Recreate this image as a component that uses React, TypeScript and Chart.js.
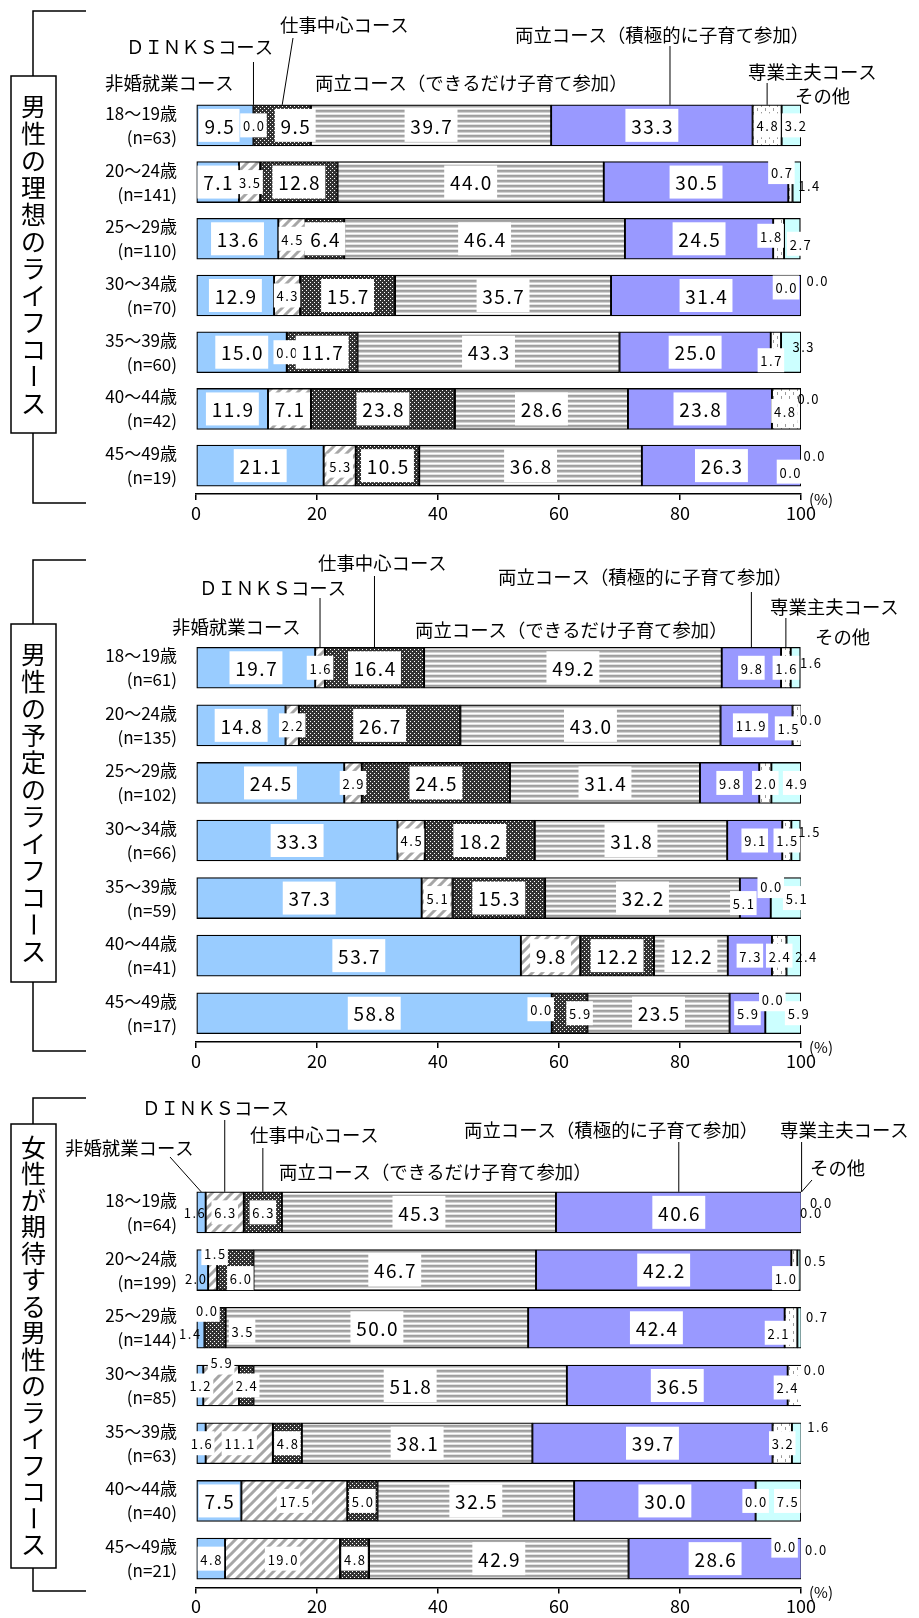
import React, { useEffect, useRef } from "react";
import { Chart, registerables } from "chart.js";

Chart.register(...registerables);

const FONT = "'Noto Sans CJK JP', 'Noto Sans', sans-serif";
Chart.defaults.font.family = FONT;
Chart.defaults.color = "#000";

// ---------------- data ----------------
const seriesNames = [
  "非婚就業コース",
  "ＤＩＮＫＳコース",
  "仕事中心コース",
  "両立コース（できるだけ子育て参加）",
  "両立コース（積極的に子育て参加）",
  "専業主夫コース",
  "その他",
];

const ageGroups = ["18～19歳", "20～24歳", "25～29歳", "30～34歳", "35～39歳", "40～44歳", "45～49歳"];
const xTicks = [0, 20, 40, 60, 80, 100];

// 男性の理想のライフコース
const idealN = [63, 141, 110, 70, 60, 42, 19];
const idealSingle = [9.5, 7.1, 13.6, 12.9, 15.0, 11.9, 21.1];
const idealDinks = [0.0, 3.5, 4.5, 4.3, 0.0, 7.1, 5.3];
const idealWork = [9.5, 12.8, 6.4, 15.7, 11.7, 23.8, 10.5];
const idealBalance = [39.7, 44.0, 46.4, 35.7, 43.3, 28.6, 36.8];
const idealActive = [33.3, 30.5, 24.5, 31.4, 25.0, 23.8, 26.3];
const idealHouse = [4.8, 0.7, 1.8, 0.0, 1.7, 4.8, 0.0];
const idealOther = [3.2, 1.4, 2.7, 0.0, 3.3, 0.0, 0.0];

// 男性の予定のライフコース
const planN = [61, 135, 102, 66, 59, 41, 17];
const planSingle = [19.7, 14.8, 24.5, 33.3, 37.3, 53.7, 58.8];
const planDinks = [1.6, 2.2, 2.9, 4.5, 5.1, 9.8, 0.0];
const planWork = [16.4, 26.7, 24.5, 18.2, 15.3, 12.2, 5.9];
const planBalance = [49.2, 43.0, 31.4, 31.8, 32.2, 12.2, 23.5];
const planActive = [9.8, 11.9, 9.8, 9.1, 5.1, 7.3, 5.9];
const planHouse = [1.6, 1.5, 2.0, 1.5, 0.0, 2.4, 0.0];
const planOther = [1.6, 0.0, 4.9, 1.5, 5.1, 2.4, 5.9];

// 女性が期待する男性のライフコース
const wishN = [64, 199, 144, 85, 63, 40, 21];
const wishSingle = [1.6, 2.0, 1.4, 1.2, 1.6, 7.5, 4.8];
const wishDinks = [6.3, 1.5, 0.0, 5.9, 11.1, 17.5, 19.0];
const wishWork = [6.3, 6.0, 3.5, 2.4, 4.8, 5.0, 4.8];
const wishBalance = [45.3, 46.7, 50.0, 51.8, 38.1, 32.5, 42.9];
const wishActive = [40.6, 42.2, 42.4, 36.5, 39.7, 30.0, 28.6];
const wishHouse = [0.0, 1.0, 2.1, 2.4, 3.2, 0.0, 0.0];
const wishOther = [0.0, 0.5, 0.7, 0.0, 1.6, 7.5, 0.0];

// ---------------- layout ----------------
type Ann = { text: string; x: number; y: number; series?: number; fromX?: number; fromY?: number; frac?: number };
type PanelCfg = {
  title: string;
  n: number[];
  data: number[][];
  top: number;
  height: number;
  chartTop: number;
  chartBottom: number;
  box: [number, number];
  bracket: [number, number];
  pitch: number;
  smallSeries: number[];
  anns: Ann[];
  nudges: Record<string, [number, number]>;
};

const panels: PanelCfg[] = [
  {
    title: "男性の理想のライフコース",
    n: idealN,
    data: [idealSingle, idealDinks, idealWork, idealBalance, idealActive, idealHouse, idealOther],
    top: 0,
    height: 535,
    chartTop: 97,
    chartBottom: 494,
    box: [76, 433],
    bracket: [11, 503],
    pitch: 27,
    smallSeries: [],
    anns: [
      { text: seriesNames[0], x: 105, y: 83 },
      { text: seriesNames[1], x: 126, y: 47, series: 1, fromY: 62 },
      { text: seriesNames[2], x: 280, y: 25, series: 2, fromX: 293, fromY: 38 },
      { text: seriesNames[3], x: 315, y: 83 },
      { text: seriesNames[4], x: 515, y: 35, series: 4, fromY: 46, frac: 0.59 },
      { text: seriesNames[5], x: 748, y: 72, series: 5, fromY: 83 },
      { text: seriesNames[6], x: 795, y: 96 },
    ],
    nudges: {
      "0-0": [-6, 0], "0-2": [13, 0], "0-6": [4, 0],
      "1-5": [-9, -10], "1-6": [12, 3],
      "2-5": [-8, -3], "2-6": [8, 5],
      "3-5": [-15, -8], "3-6": [16, -15],
      "4-5": [-5, 8], "4-6": [12, -6],
      "5-5": [-2, 2], "5-6": [7, -11],
      "6-5": [-11, 6], "6-6": [13, -11],
    },
  },
  {
    title: "男性の予定のライフコース",
    n: planN,
    data: [planSingle, planDinks, planWork, planBalance, planActive, planHouse, planOther],
    top: 535,
    height: 540,
    chartTop: 639,
    chartBottom: 1042,
    box: [624, 982],
    bracket: [560, 1051],
    pitch: 27,
    smallSeries: [4],
    anns: [
      { text: seriesNames[0], x: 172, y: 627 },
      { text: seriesNames[1], x: 199, y: 588, series: 1, fromY: 598 },
      { text: seriesNames[2], x: 318, y: 563, series: 2, fromY: 576 },
      { text: seriesNames[3], x: 415, y: 630 },
      { text: seriesNames[4], x: 498, y: 577, series: 4, fromY: 592 },
      { text: seriesNames[5], x: 770, y: 607, series: 5, fromY: 618 },
      { text: seriesNames[6], x: 815, y: 637 },
    ],
    nudges: {
      "0-6": [15, -6],
      "1-4": [-6, 0], "1-5": [-9, 3], "1-6": [9, -6],
      "2-6": [10, 0],
      "3-6": [13, -9],
      "4-4": [-12, 5], "4-5": [0, -12], "4-6": [10, 0],
      "5-6": [12, 0],
      "6-1": [-11, -4], "6-2": [10, 0], "6-5": [7, -14], "6-6": [15, 0],
    },
  },
  {
    title: "女性が期待する男性のライフコース",
    n: wishN,
    data: [wishSingle, wishDinks, wishWork, wishBalance, wishActive, wishHouse, wishOther],
    top: 1075,
    height: 543,
    chartTop: 1183.5,
    chartBottom: 1587.5,
    box: [1124, 1568],
    bracket: [1098, 1591],
    pitch: 26.5,
    smallSeries: [1, 2, 5, 6],
    anns: [
      { text: seriesNames[1], x: 142, y: 1108, series: 1, fromY: 1120 },
      { text: seriesNames[0], x: 65, y: 1148, series: 0, fromX: 170, fromY: 1157 },
      { text: seriesNames[2], x: 250, y: 1135, series: 2, fromY: 1148 },
      { text: seriesNames[3], x: 279, y: 1172 },
      { text: seriesNames[4], x: 464, y: 1130, series: 4, fromY: 1142 },
      { text: seriesNames[5], x: 780, y: 1130, series: 5, fromY: 1142 },
      { text: seriesNames[6], x: 810, y: 1168, series: 6, fromX: 812, fromY: 1180 },
    ],
    nudges: {
      "0-0": [-7, 0], "0-5": [9, 0], "0-6": [19, -10],
      "1-0": [-7, 8], "1-1": [2, -17], "1-2": [5, 8], "1-5": [-9, 8], "1-6": [16, -10],
      "2-0": [-11, 5], "2-1": [2, -18], "2-2": [27, 3], "2-5": [-13, 5], "2-6": [17, -12],
      "3-1": [0, -23], "3-5": [-8, 2], "3-6": [12, -16],
      "4-6": [21, -17],
      "5-6": [9, 0],
      "6-5": [-17, -13], "6-6": [14, -10],
    },
  },
];

// ---------------- fills ----------------
function makePattern(w: number, h: number, draw: (g: CanvasRenderingContext2D) => void): CanvasPattern | string {
  const c = document.createElement("canvas");
  c.width = w;
  c.height = h;
  const g = c.getContext("2d");
  if (!g) return "#ccc";
  draw(g);
  return g.createPattern(c, "repeat") || "#ccc";
}

function makeFills(): (CanvasPattern | string)[] {
  const hatch = makePattern(10, 10, (g) => {
    g.fillStyle = "#fff";
    g.fillRect(0, 0, 10, 10);
    g.strokeStyle = "#a6a6a6";
    g.lineWidth = 3;
    g.beginPath();
    g.moveTo(-2, 12); g.lineTo(12, -2);
    g.moveTo(-7, 7); g.lineTo(7, -7);
    g.moveTo(3, 17); g.lineTo(17, 3);
    g.stroke();
  });
  const dots = makePattern(4, 4, (g) => {
    g.fillStyle = "#333";
    g.fillRect(0, 0, 4, 4);
    g.fillStyle = "#fff";
    g.fillRect(0, 0, 1, 1);
    g.fillRect(2, 2, 1, 1);
  });
  const stripes = makePattern(4, 5, (g) => {
    const cols = ["#9e9e9e", "#a8a8a8", "#d2d2d2", "#ffffff", "#e2e2e2"];
    cols.forEach((c, i) => {
      g.fillStyle = c;
      g.fillRect(0, i, 4, 1);
    });
  });
  const dash = makePattern(8, 8, (g) => {
    g.fillStyle = "#fff";
    g.fillRect(0, 0, 8, 8);
    g.fillStyle = "#9a9a9a";
    g.fillRect(1, 0, 1, 3);
    g.fillRect(5, 4, 1, 3);
  });
  return ["#99CCFF", hatch, dots, stripes, "#9999FF", dash, "#CCFFFF"];
}

// ---------------- plugin ----------------
function makePlugin(cfg: PanelCfg) {
  const oy = cfg.top;
  return {
    id: "panelDecor",
    afterDatasetsDraw(chart: any) {
      const ctx: CanvasRenderingContext2D = chart.ctx;
      const area = chart.chartArea;
      ctx.save();
      cfg.data.forEach((vals, s) => {
        const meta = chart.getDatasetMeta(s);
        vals.forEach((v, r) => {
          const el = meta.data[r];
          if (!el) return;
          const p = el.getProps(["x", "y", "base"], true);
          let cx = (p.x + p.base) / 2;
          let cy = p.y;
          const nd = cfg.nudges[`${r}-${s}`];
          if (nd) {
            cx += nd[0];
            cy += nd[1];
          }
          const big = v >= 6 && !cfg.smallSeries.includes(s);
          const size = big ? 19 : 13;
          const txt = v.toFixed(1);
          ctx.font = `${size}px ${FONT}`;
          (ctx as any).letterSpacing = big ? "1.5px" : "1.5px";
          const w = ctx.measureText(txt).width;
          const bw = w + (big ? 10 : 4);
          const bh = big ? 33 : 24;
          if (cx >= area.left && cx <= area.right) {
            ctx.fillStyle = "#fff";
            ctx.fillRect(cx - bw / 2, cy - bh / 2, bw, bh);
          }
          ctx.fillStyle = "#000";
          ctx.textAlign = "center";
          ctx.textBaseline = "middle";
          ctx.fillText(txt, cx + 0.75, cy + 1);
        });
      });
      (ctx as any).letterSpacing = "0px";
      ctx.restore();
    },
    afterDraw(chart: any) {
      const ctx: CanvasRenderingContext2D = chart.ctx;
      const area = chart.chartArea;
      ctx.save();
      // series annotations with leader lines
      ctx.font = `18.4px ${FONT}`;
      ctx.fillStyle = "#000";
      ctx.textAlign = "left";
      ctx.textBaseline = "middle";
      cfg.anns.forEach((a) => {
        ctx.fillText(a.text, a.x, a.y - oy);
        if (a.series !== undefined) {
          const el = chart.getDatasetMeta(a.series).data[0];
          const p = el.getProps(["x", "y", "base", "height"], true);
          const f = a.frac ?? 0.5;
          const tx = p.base + f * (p.x - p.base);
          const ty = p.y - p.height / 2;
          const fx = a.fromX ?? tx;
          ctx.strokeStyle = "#000";
          ctx.lineWidth = 1;
          ctx.beginPath();
          ctx.moveTo(fx, a.fromY! - oy);
          ctx.lineTo(tx, ty);
          ctx.stroke();
        }
      });
      // (%)
      ctx.font = `15px ${FONT}`;
      ctx.textAlign = "center";
      ctx.fillText("(%)", area.right + 20, area.bottom + 5);
      // bracket + box
      const bx = 33;
      const [bt, bb] = cfg.box;
      const [kt, kb] = cfg.bracket;
      ctx.strokeStyle = "#000";
      ctx.lineWidth = 1.5;
      ctx.beginPath();
      ctx.moveTo(86, kt - oy);
      ctx.lineTo(bx, kt - oy);
      ctx.lineTo(bx, bt - oy);
      ctx.moveTo(bx, bb - oy);
      ctx.lineTo(bx, kb - oy);
      ctx.lineTo(86, kb - oy);
      ctx.stroke();
      ctx.fillStyle = "#fff";
      ctx.fillRect(11, bt - oy, 45, bb - bt);
      ctx.strokeRect(11, bt - oy, 45, bb - bt);
      // vertical title
      const chars = Array.from(cfg.title);
      const mid = (bt + bb) / 2 - oy;
      const start = mid - ((chars.length - 1) * cfg.pitch) / 2;
      ctx.fillStyle = "#000";
      ctx.font = `25px ${FONT}`;
      ctx.textAlign = "center";
      ctx.textBaseline = "middle";
      chars.forEach((ch, i) => {
        const y = start + i * cfg.pitch;
        if (ch === "ー") {
          ctx.save();
          ctx.translate(33.5, y);
          ctx.rotate(Math.PI / 2);
          ctx.fillText(ch, 0, 0);
          ctx.restore();
        } else {
          ctx.fillText(ch, 33.5, y);
        }
      });
      ctx.restore();
    },
  };
}

// ---------------- components ----------------
function Panel({ cfg }: { cfg: PanelCfg }) {
  const ref = useRef<HTMLCanvasElement>(null);
  useEffect(() => {
    const canvas = ref.current;
    if (!canvas) return;
    const fills = makeFills();
    const labels = ageGroups.map((a, i) => [a, `(n=${cfg.n[i]})`]);
    const chart = new Chart(canvas, {
      type: "bar",
      data: {
        labels,
        datasets: seriesNames.map((name, s) => ({
          label: name,
          data: cfg.data[s],
          backgroundColor: fills[s] as any,
          borderColor: "#000",
          borderWidth: 1.3,
          borderSkipped: false,
          barThickness: 41,
        })),
      },
      options: {
        indexAxis: "y",
        responsive: false,
        animation: false,
        events: [],
        layout: {
          padding: {
            left: 0,
            right: 118,
            top: cfg.chartTop - cfg.top,
            bottom: cfg.height - (cfg.chartBottom - cfg.top) - 30,
          },
        },
        plugins: {
          legend: { display: false },
          tooltip: { enabled: false },
          title: { display: false },
        },
        scales: {
          x: {
            type: "linear",
            position: "bottom",
            stacked: true,
            min: 0,
            max: 100,
            afterBuildTicks: (scale: any) => {
              scale.ticks = xTicks.map((v) => ({ value: v }));
            },
            ticks: {
              font: { size: 18, family: FONT },
              color: "#000",
              padding: 2,
              maxRotation: 0,
            },
            grid: {
              drawOnChartArea: false,
              drawTicks: true,
              tickLength: 6,
              color: "#000",
              lineWidth: 1.5,
            },
            border: { display: true, color: "#000", width: 1.5 },
            afterFit: (scale: any) => {
              scale.height = 30;
              scale.paddingLeft = 0;
              scale.paddingRight = 0;
            },
          },
          y: {
            type: "category",
            stacked: true,
            offset: true,
            ticks: {
              font: { size: 17, family: FONT, lineHeight: 24 / 17 },
              color: "#000",
              padding: 19,
            },
            grid: { display: false, drawTicks: false },
            border: { display: false },
            afterFit: (scale: any) => {
              scale.width = 196;
              scale.paddingTop = 0;
              scale.paddingBottom = 0;
            },
          },
        },
      } as any,
      plugins: [makePlugin(cfg)],
    });
    return () => chart.destroy();
  }, [cfg]);
  return (
    <canvas
      ref={ref}
      width={919}
      height={cfg.height}
      style={{ position: "absolute", left: 0, top: cfg.top, width: 919, height: cfg.height }}
    />
  );
}

export default function App() {
  useEffect(() => {
    document.body.style.margin = "0";
    document.body.style.background = "#fff";
  }, []);
  return (
    <div style={{ position: "relative", width: 919, height: 1618, background: "#fff", overflow: "hidden" }}>
      {panels.map((p, i) => (
        <Panel key={i} cfg={p} />
      ))}
    </div>
  );
}
